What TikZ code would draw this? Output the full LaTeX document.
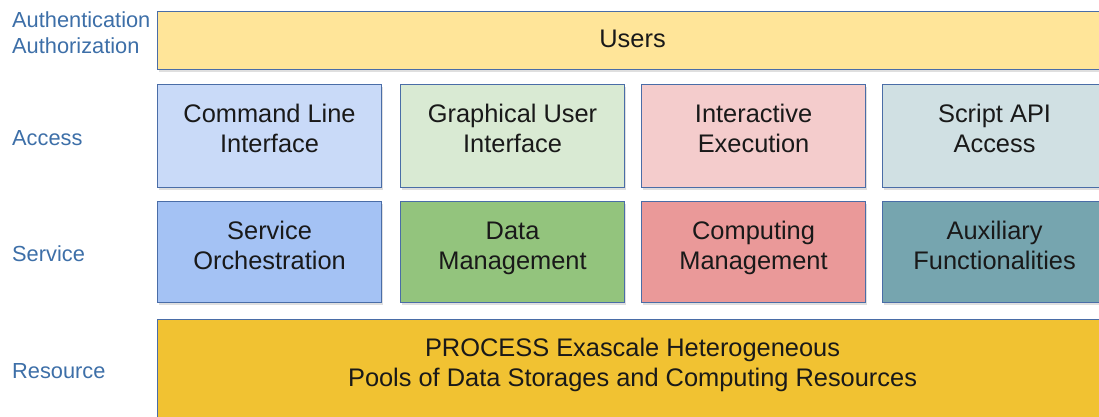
\documentclass[tikz,border=0pt]{standalone}
\usepackage{fontspec}
\setmainfont{Liberation Sans}
\usetikzlibrary{shadows}
\definecolor{edge}{HTML}{4A6DA7}
\definecolor{labelblue}{HTML}{3D6FA8}
\definecolor{cUsers}{HTML}{FFE599}
\definecolor{cCli}{HTML}{C9DAF8}
\definecolor{cGui}{HTML}{D9EAD3}
\definecolor{cInter}{HTML}{F4CCCC}
\definecolor{cScript}{HTML}{D0E0E3}
\definecolor{cOrch}{HTML}{A4C2F4}
\definecolor{cData}{HTML}{93C47D}
\definecolor{cComp}{HTML}{EA9999}
\definecolor{cAux}{HTML}{76A5AF}
\definecolor{cRes}{HTML}{F1C232}
% two centred lines with uniform line boxes
\newcommand\twolines[2]{\strut#1\\\strut#2}
\tikzset{
  layerbox/.style={draw=edge, line width=1.1pt, anchor=north west, inner sep=0pt,
    drop shadow={opacity=0.25, shadow xshift=1.5pt, shadow yshift=-2pt}},
  cell/.style={layerbox, minimum width=224pt, minimum height=103pt},
  boxtext/.style={align=center, inner sep=0pt, text=black!90,
    font=\fontsize{25.4}{30}\selectfont, yshift=4pt},
  layerlabel/.style={anchor=west, align=left, inner sep=0pt, text=labelblue,
    font=\fontsize{21.8}{26}\selectfont}
}
\begin{document}
\begin{tikzpicture}[x=1pt,y=-1pt]
\useasboundingbox (0,0) rectangle (1099,417);
\fill[white] (0,0) rectangle (1099,417);
\clip (0,0) rectangle (1099,417);

% layer names
\node[layerlabel] (lauth) at (12,33) {Authentication\\Authorization};
\node[layerlabel] (lacc) at (12,138) {Access};
\node[layerlabel] (lsrv) at (12,254) {Service};
\node[layerlabel] (lres) at (12,371) {Resource};

% users layer
\node[layerbox, fill=cUsers, minimum width=950pt, minimum height=58pt] (users) at (157,11) {};
\node[boxtext, yshift=-5pt] (users-t) at (users.center) {\strut Users};

% access layer
\node[cell, fill=cCli] (cli) at (157,84) {};
\node[cell, fill=cGui] (gui) at (400,84) {};
\node[cell, fill=cInter] (inter) at (641,84) {};
\node[cell, fill=cScript] (script) at (882,84) {};
\node[boxtext, yshift=1pt] (cli-t) at (cli.center) {\twolines{Command Line}{Interface}};
\node[boxtext, yshift=1pt] (gui-t) at (gui.center) {\twolines{Graphical User}{Interface}};
\node[boxtext, yshift=1pt] (inter-t) at (inter.center) {\twolines{Interactive}{Execution}};
\node[boxtext, yshift=1pt] (script-t) at (script.center) {\twolines{Script API}{Access}};

% service layer
\node[cell, fill=cOrch, minimum height=101pt] (orch) at (157,201) {};
\node[cell, fill=cData, minimum height=101pt] (data) at (400,201) {};
\node[cell, fill=cComp, minimum height=101pt] (comp) at (641,201) {};
\node[cell, fill=cAux, minimum height=101pt] (aux) at (882,201) {};
\node[boxtext, yshift=-0.5pt] (orch-t) at (orch.center) {\twolines{Service}{Orchestration}};
\node[boxtext, yshift=-0.5pt] (data-t) at (data.center) {\twolines{Data}{Management}};
\node[boxtext, yshift=-0.5pt] (comp-t) at (comp.center) {\twolines{Computing}{Management}};
\node[boxtext, yshift=-0.5pt] (aux-t) at (aux.center) {\twolines{Auxiliary}{Functionalities}};

% resource layer
\node[layerbox, fill=cRes, minimum width=950pt, minimum height=100pt] (res) at (157,319) {};
\node[boxtext] (res-t) at (res.center)
  {\twolines{PROCESS Exascale Heterogeneous}{Pools of Data Storages and Computing Resources}};
\end{tikzpicture}
\end{document}
